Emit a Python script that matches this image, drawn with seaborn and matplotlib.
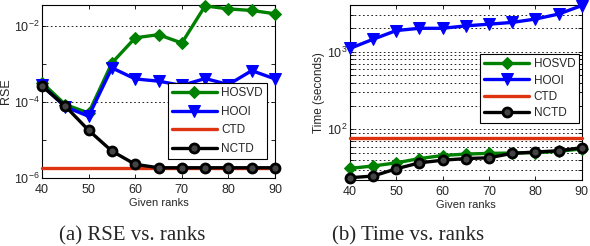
import numpy as np
import pandas as pd
import matplotlib
matplotlib.use("Agg")
import matplotlib.pyplot as plt
import seaborn as sns
from matplotlib.ticker import LogLocator, NullFormatter

# ---------------------------------------------------------------------------
# Data
# ---------------------------------------------------------------------------
ranks = [40, 45, 50, 55, 60, 65, 70, 75, 80, 85, 90]

rse_hosvd = [3.2e-4, 8.5e-5, 5.1e-5, 1.05e-3, 4.8e-3, 5.8e-3, 3.5e-3, 3.3e-2, 2.75e-2, 2.5e-2, 2.05e-2]
rse_hooi = [2.7e-4, 7.4e-5, 4.2e-5, 7.8e-4, 4.0e-4, 3.5e-4, 2.7e-4, 4.1e-4, 2.85e-4, 6.6e-4, 4.0e-4]
rse_ctd = 1.87e-6
rse_nctd = [2.6e-4, 7.7e-5, 1.8e-5, 5.1e-6, 2.3e-6, 1.87e-6, 1.87e-6, 1.87e-6, 1.87e-6, 1.87e-6, 1.87e-6]

time_hosvd = [31.4, 33.7, 37.0, 42.0, 46.0, 48.0, 49.0, 49.5, 50.0, 52.0, 56.0]
time_hooi = [1100, 1445, 1870, 2000, 2000, 2150, 2260, 2380, 2630, 3050, 3920]
time_ctd = 76.5
time_nctd = [23.8, 25.0, 31.0, 37.0, 40.0, 42.0, 43.0, 49.0, 51.0, 53.0, 58.0]

methods = ["HOSVD", "HOOI", "CTD", "NCTD"]

# ---------------------------------------------------------------------------
# Style
# ---------------------------------------------------------------------------
sns.set_style("ticks")
plt.rcParams["font.family"] = ["Liberation Sans", "DejaVu Sans"]
plt.rcParams["mathtext.fontset"] = "custom"
plt.rcParams["mathtext.rm"] = "Liberation Sans"
plt.rcParams["xtick.direction"] = "in"
plt.rcParams["ytick.direction"] = "in"

COLORS = {"HOSVD": "#008000", "HOOI": "#0000FF", "CTD": "#DD3311", "NCTD": "#000000"}
MARKERS = {"HOSVD": "D", "HOOI": "v", "CTD": None, "NCTD": "o"}
MSIZE = {"HOSVD": 6, "HOOI": 8, "CTD": 0, "NCTD": 6.5}


def tidy(hosvd, hooi, ctd, nctd):
    n = len(ranks)
    return pd.DataFrame({
        "rank": ranks * 4,
        "value": list(hosvd) + list(hooi) + [ctd] * n + list(nctd),
        "method": sum([[m] * n for m in methods], []),
    })


def draw(ax, df):
    for m in methods:
        sub = df[df["method"] == m]
        kw = dict(marker=MARKERS[m], markersize=MSIZE[m]) if MARKERS[m] else {}
        if m == "NCTD":
            kw.update(markerfacecolor="#444444", markeredgecolor="black", markeredgewidth=2)
        elif MARKERS[m]:
            kw.update(markeredgecolor=COLORS[m])
        sns.lineplot(data=sub, x="rank", y="value", ax=ax, color=COLORS[m],
                     linewidth=2.4, label=m, clip_on=False, zorder=3, **kw)
    ax.set_yscale("log")
    ax.set_xlim(40, 90)
    ax.set_xticks([40, 50, 60, 70, 80, 90])
    for s in ax.spines.values():
        s.set_visible(True)
        s.set_linewidth(0.8)
        s.set_color("black")
        s.set_zorder(2)
    ax.tick_params(axis="both", which="both", top=True, right=True,
                   labelsize=9, length=3, width=0.6, color="black")
    ax.tick_params(axis="x", pad=4)
    ax.tick_params(axis="y", pad=2)
    ax.set_xlabel("Given ranks", fontsize=8, labelpad=2)


def add_legend(ax, anchor, spacing):
    leg = ax.legend(loc="lower right", bbox_to_anchor=anchor, fontsize=8.5,
                    frameon=True, fancybox=False, edgecolor="black", framealpha=1,
                    handlelength=3.8, borderpad=0.35, labelspacing=spacing,
                    handletextpad=0.4, borderaxespad=0)
    leg.get_frame().set_linewidth(0.8)
    leg.set_zorder(5)


fig = plt.figure(figsize=(5.9, 2.46), dpi=100)
ax1 = fig.add_axes([0.0712, 0.276, 0.395, 0.704])
ax2 = fig.add_axes([0.593, 0.268, 0.393, 0.712])

# ---- (a) RSE vs ranks ------------------------------------------------------
draw(ax1, tidy(rse_hosvd, rse_hooi, rse_ctd, rse_nctd))
ax1.set_ylim(1e-6, 3.5e-2)
ax1.set_yticks([1e-6, 1e-4, 1e-2])
ax1.yaxis.set_minor_locator(LogLocator(base=10, subs=[], numticks=20))
ax1.yaxis.set_minor_formatter(NullFormatter())
ax1.grid(axis="y", which="major", linestyle=(0, (2, 3)), color="black", linewidth=0.6)
ax1.set_ylabel("RSE", fontsize=9, labelpad=1)
add_legend(ax1, (0.966, 0.11), 0.55)

# ---- (b) Time vs ranks -----------------------------------------------------
draw(ax2, tidy(time_hosvd, time_hooi, time_ctd, time_nctd))
ax2.set_ylim(22.2, 4000)
ax2.set_yticks([1e2, 1e3])
ax2.yaxis.set_minor_locator(LogLocator(base=10, subs=np.arange(2, 10), numticks=20))
ax2.yaxis.set_minor_formatter(NullFormatter())
ax2.grid(axis="y", which="both", linestyle=(0, (2, 3)), color="black", linewidth=0.6)
ax2.set_ylabel("Time (seconds)", fontsize=8.5, labelpad=1)
add_legend(ax2, (0.99, 0.326), 0.35)

for ax in (ax1, ax2):
    ax.set_axisbelow(True)

# ---- captions ----------------------------------------------------------------
fig.text(132 / 590, 1 - 236 / 246, "(a) RSE vs. ranks", ha="center", va="center",
         fontsize=15, family=["Liberation Serif", "DejaVu Serif"])
fig.text(408 / 590, 1 - 236 / 246, "(b) Time vs. ranks", ha="center", va="center",
         fontsize=15, family=["Liberation Serif", "DejaVu Serif"])

fig.savefig("out.png", dpi=100, facecolor="white")
